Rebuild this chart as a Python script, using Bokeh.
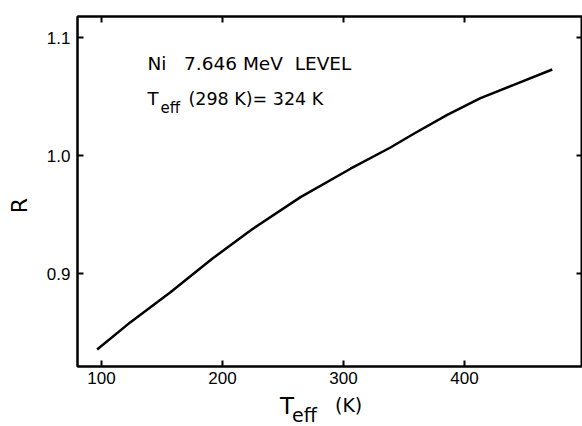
from bokeh.plotting import figure
from bokeh.models import LinearAxis, Label, FixedTicker, Range1d, Div, PrintfTickFormatter
from bokeh.layouts import column
from bokeh.embed import file_html
from bokeh.resources import INLINE

# Curve: effective temperature (K) vs ratio R
temps = [96.4, 124.0, 157.0, 191.5, 223.1, 264.5, 305.8, 338.8, 358.1, 385.7, 413.2, 440.7, 472.5]
ratio = [0.8360, 0.8592, 0.8846, 0.9129, 0.9369, 0.9651, 0.9892, 1.0072, 1.0188, 1.0349, 1.0490, 1.0603, 1.0733]

x_ticks = [100, 200, 300, 400]
y_ticks = [0.9, 1.0, 1.1]

NB = "\u00a0"
title_line = "Ni" + NB * 3 + "7.646" + NB + "MeV" + NB * 2 + "LEVEL"
teff_main = "T"
teff_sub = "eff"
teff_value = "(298" + NB + "K)=" + NB + "324" + NB + "K"
x_unit = "(K)"
y_name = "R" + NB * 4

p = figure(width=582, height=392, output_backend="svg", toolbar_location=None,
           x_range=Range1d(80.2, 497.5), y_range=Range1d(0.8216, 1.1182),
           min_border_left=77, min_border_top=16, min_border_right=0, min_border_bottom=26)
p.background_fill_color = "white"
p.border_fill_color = "white"
p.outline_line_color = "black"
p.outline_line_width = 2
p.grid.visible = False

p.line(temps, ratio, line_color="black", line_width=2.5, line_join="round")

def style_axis(ax, labels=True):
    ax.major_tick_in = 6
    ax.major_tick_out = 0
    ax.minor_tick_line_color = None
    ax.axis_line_color = "black"
    ax.axis_line_width = 2
    ax.major_tick_line_color = "black"
    ax.major_tick_line_width = 2
    if labels:
        ax.major_label_text_font = "Liberation Sans"
        ax.major_label_text_font_size = "17px"
        ax.major_label_text_color = "black"
    else:
        ax.major_label_text_color = None
        ax.major_label_text_font_size = "0px"
        ax.major_label_standoff = 0

style_axis(p.xaxis[0])
style_axis(p.yaxis[0])
p.xaxis[0].ticker = FixedTicker(ticks=x_ticks)
p.yaxis[0].ticker = FixedTicker(ticks=y_ticks)
p.yaxis[0].formatter = PrintfTickFormatter(format="%.1f")
p.xaxis[0].major_label_standoff = 5
p.yaxis[0].major_label_standoff = 7
p.yaxis[0].axis_label = y_name
p.yaxis[0].axis_label_text_font = "DejaVu Sans"
p.yaxis[0].axis_label_text_font_size = "22px"
p.yaxis[0].axis_label_text_font_style = "normal"
p.yaxis[0].axis_label_text_color = "black"
p.yaxis[0].axis_label_standoff = 12

top_ax = LinearAxis(ticker=FixedTicker(ticks=x_ticks))
style_axis(top_ax, labels=False)
p.add_layout(top_ax, "above")
right_ax = LinearAxis(ticker=FixedTicker(ticks=y_ticks))
style_axis(right_ax, labels=False)
p.add_layout(right_ax, "right")

def add_label(x, y, text, size, font="DejaVu Sans"):
    p.add_layout(Label(x=x, y=y, text=text, text_font=font, text_font_size=size,
                       text_color="black", text_baseline="alphabetic", text_align="left"))

add_label(138.0, 1.0784, title_line, "18.5px")
add_label(138.0, 1.0487, teff_main, "18px")
add_label(148.8, 1.0403, teff_sub, "15px")
add_label(171.9, 1.0487, teff_value, "17.5px")

xlabel_html = (
    '<div style="position:relative;width:582px;height:34px;overflow:hidden;'
    'font-family:\'DejaVu Sans\';color:#000;">'
    '<span style="position:absolute;left:280px;top:3px;font-size:23px;line-height:1;">' + teff_main + '</span>'
    '<span style="position:absolute;left:292px;top:14px;font-size:19px;line-height:1;">' + teff_sub + '</span>'
    '<span style="position:absolute;left:335px;top:4px;font-size:19px;line-height:1;">' + x_unit + '</span>'
    '</div>'
)
xlabel = Div(text=xlabel_html, width=582, height=34, margin=(0, 0, 0, 0))

layout = column(p, xlabel, spacing=0)

open("out.html", "w").write(file_html(layout, INLINE))
